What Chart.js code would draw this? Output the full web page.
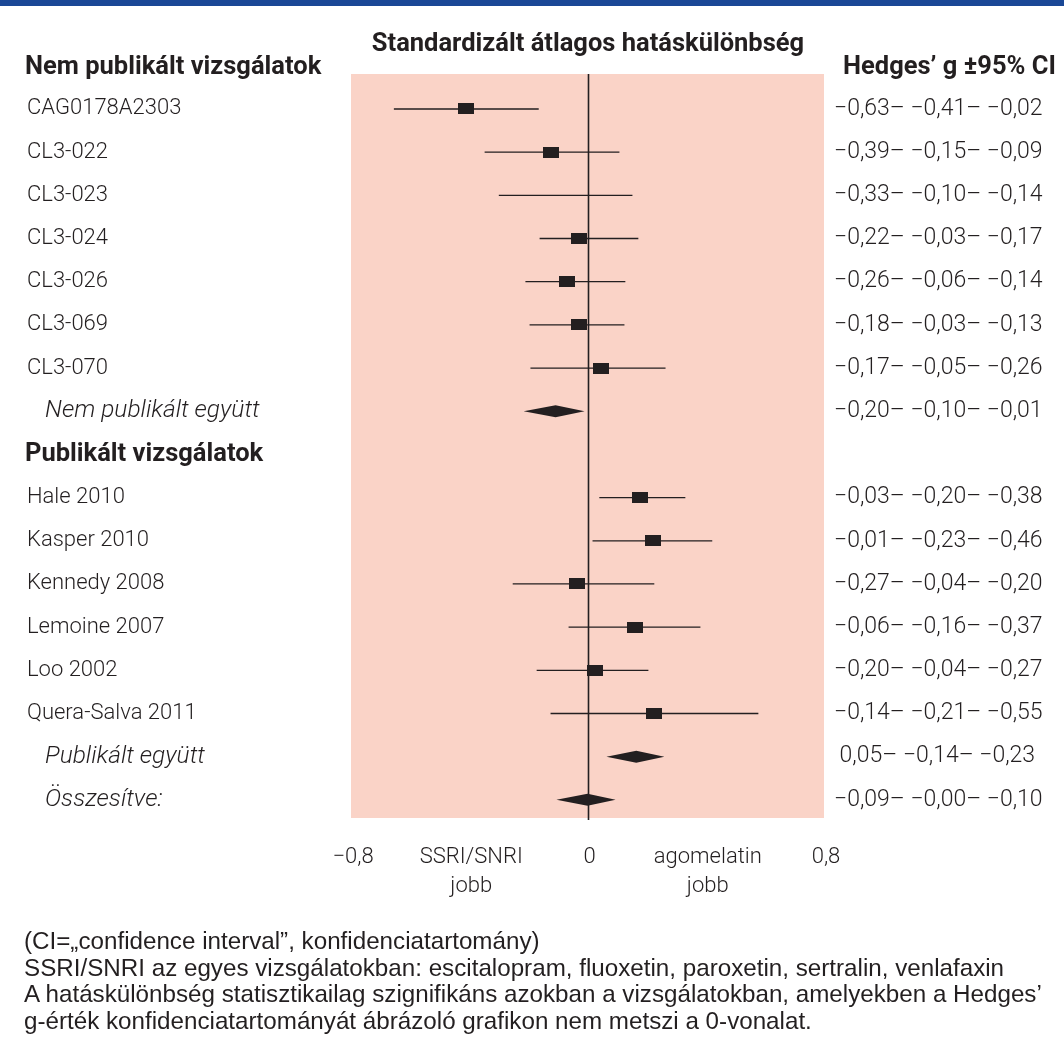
<!DOCTYPE html>
<html>
<head>
<meta charset="utf-8">
<script src="https://cdn.jsdelivr.net/npm/chart.js@4.4.1/dist/chart.umd.min.js"></script>
<style>
  body { margin: 0; background: #fff; }
  #wrap { position: relative; width: 1064px; height: 1060px; overflow: hidden; }
  #topbar { position: absolute; left: 0; top: 0; width: 1064px; height: 6px; background: #1a4796; }
  #forest { position: absolute; left: 0; top: 0; }
  .head { position: absolute; font-family: Roboto, sans-serif; font-weight: 700; font-size: 25.5px; color: #231f20; white-space: nowrap; line-height: 26px; }
  #title { left: 0; width: 1176px; text-align: center; top: 29px; }
  #leftHead { left: 25px; top: 52px; }
  #rightHead { left: 843px; top: 52px; }
  #note { position: absolute; left: 24px; top: 928px; font-family: "Liberation Sans", Arial, sans-serif; font-size: 24.2px; line-height: 26.5px; color: #231f20; white-space: nowrap; }
</style>
</head>
<body>
<div id="wrap">
  <div id="topbar"></div>
  <canvas id="forest" width="1064" height="1060"></canvas>
  <div class="head" id="title">Standardizált átlagos hatáskülönbség</div>
  <div class="head" id="leftHead">Nem publikált vizsgálatok</div>
  <div class="head" id="rightHead">Hedges’ g ±95% CI</div>
  <div id="note">
    (CI=„confidence interval”, konfidenciatartomány)<br>
    SSRI/SNRI az egyes vizsgálatokban: escitalopram, fluoxetin, paroxetin, sertralin, venlafaxin<br>
    A hatáskülönbség statisztikailag szignifikáns azokban a vizsgálatokban, amelyekben a Hedges’<br>
    g-érték konfidenciatartományát ábrázoló grafikon nem metszi a 0-vonalat.
  </div>
</div>
<script>
// --- Data ---
const rowLabels = [
    'CAG0178A2303', 'CL3-022', 'CL3-023', 'CL3-024', 'CL3-026', 'CL3-069', 'CL3-070',
    'Nem publikált együtt', 'Publikált vizsgálatok',
    'Hale 2010', 'Kasper 2010', 'Kennedy 2008', 'Lemoine 2007', 'Loo 2002', 'Quera-Salva 2011',
    'Publikált együtt', 'Összesítve:'
];
// study = box + CI line, pooled = diamond, group = bold heading row
const rowKinds = [
    'study', 'study', 'study', 'study', 'study', 'study', 'study',
    'pooled', 'group',
    'study', 'study', 'study', 'study', 'study', 'study',
    'pooled', 'pooled'
];
const ciLow  = [-0.655, -0.348, -0.300, -0.162, -0.210, -0.196, -0.193, -0.216, null, 0.040, 0.017, -0.253, -0.064, -0.172, -0.125, 0.064, -0.105];
const effect = [-0.410, -0.125, null,   -0.030, -0.068, -0.030,  0.047, -0.108, null, 0.179, 0.223, -0.034,  0.162,  0.027,  0.226, 0.165,  0.000];
const ciHigh = [-0.165,  0.108,  0.152,  0.172,  0.128,  0.125,  0.264, -0.010, null, 0.331, 0.422,  0.226,  0.382,  0.206,  0.578, 0.260,  0.095];
const valueLabels = [
    '−0,63– −0,41– −0,02', '−0,39– −0,15– −0,09', '−0,33– −0,10– −0,14', '−0,22– −0,03– −0,17',
    '−0,26– −0,06– −0,14', '−0,18– −0,03– −0,13', '−0,17– −0,05– −0,26', '−0,20– −0,10– −0,01',
    '',
    '−0,03– −0,20– −0,38', '−0,01– −0,23– −0,46', '−0,27– −0,04– −0,20', '−0,06– −0,16– −0,37',
    '−0,20– −0,04– −0,27', '−0,14– −0,21– −0,55', ' 0,05– −0,14– −0,23', '−0,09– −0,00– −0,10'
];
const xTickValues = [-0.8, -0.4, 0, 0.4, 0.8];
const xTickLabels = ['−0,8', ['SSRI/SNRI', 'jobb'], '0', ['agomelatin', 'jobb'], '0,8'];

const ink = '#231f20';
const lightFont = '300 22px Roboto';

// --- Datasets built from the arrays ---
// CI whiskers as one line dataset, broken between rows with null points
const ciPoints = [];
rowKinds.forEach((k, i) => {
    if (k !== 'study') return;
    ciPoints.push({ x: ciLow[i], y: i }, { x: ciHigh[i], y: i }, { x: ciHigh[i], y: null });
});
const boxPoints = [];
rowKinds.forEach((k, i) => {
    if (k === 'study' && effect[i] !== null) boxPoints.push({ x: effect[i], y: i });
});

// filled rectangle used as point style for the study boxes
const boxImg = document.createElement('canvas');
boxImg.width = 16; boxImg.height = 11;
const bctx = boxImg.getContext('2d');
bctx.fillStyle = ink; bctx.fillRect(0, 0, 16, 11);

// --- Plugins ---
const forestDecor = {
    id: 'forestDecor',
    beforeDraw(chart) {
        const { ctx, chartArea: a } = chart;
        ctx.save();
        ctx.fillStyle = '#fad3c7';
        ctx.fillRect(a.left, a.top, a.right - a.left, a.bottom - a.top);
        ctx.restore();
    },
    beforeDatasetsDraw(chart) {
        const { ctx, chartArea: a, scales: { x } } = chart;
        const x0 = Math.round(x.getPixelForValue(0)) + 0.5;
        ctx.save();
        ctx.strokeStyle = ink; ctx.lineWidth = 1.6;
        ctx.beginPath(); ctx.moveTo(x0, a.top); ctx.lineTo(x0, a.bottom + 2); ctx.stroke();
        ctx.restore();
    },
    afterDatasetsDraw(chart) {
        const { ctx, scales: { x, y } } = chart;
        ctx.save();
        ctx.fillStyle = ink;
        rowKinds.forEach((k, i) => {
            if (k !== 'pooled') return;
            const py = y.getPixelForValue(i);
            const l = x.getPixelForValue(ciLow[i]), m = x.getPixelForValue(effect[i]), r = x.getPixelForValue(ciHigh[i]);
            ctx.beginPath();
            ctx.moveTo(l, py); ctx.lineTo(m, py - 6); ctx.lineTo(r, py); ctx.lineTo(m, py + 6);
            ctx.closePath(); ctx.fill();
        });
        ctx.restore();
    },
    afterDraw(chart) {
        const { ctx, scales: { x, y } } = chart;
        ctx.save();
        ctx.fillStyle = ink;
        ctx.textBaseline = 'middle';
        // row labels and Hedges' g column
        rowLabels.forEach((lab, i) => {
            const py = y.getPixelForValue(i);
            ctx.textAlign = 'left';
            if (rowKinds[i] === 'group') { ctx.font = '700 25.5px Roboto'; ctx.fillText(lab, 25, py); }
            else if (rowKinds[i] === 'pooled') { ctx.font = 'italic 300 24.5px Roboto'; ctx.fillText(lab, 45, py); }
            else { ctx.font = lightFont; ctx.fillText(lab, 27, py); }
            ctx.font = '300 23px Roboto';
            if (valueLabels[i]) ctx.fillText(valueLabels[i], 834, py);
        });
        // x axis labels
        ctx.textAlign = 'center';
        ctx.font = lightFont;
        xTickValues.forEach((v, i) => {
            const px = x.getPixelForValue(v);
            const lines = [].concat(xTickLabels[i]);
            lines.forEach((t, j) => ctx.fillText(t, px + 2, 857 + j * 29));
        });
        ctx.restore();
    }
};

new Chart(document.getElementById('forest'), {
    type: 'scatter',
    data: {
        datasets: [
            {
                type: 'line', data: ciPoints, showLine: true, spanGaps: false,
                borderColor: ink, borderWidth: 1.3, pointRadius: 0, order: 2
            },
            {
                data: boxPoints, pointStyle: boxImg, pointRadius: 8,
                backgroundColor: ink, borderWidth: 0, order: 1
            }
        ]
    },
    options: {
        responsive: false,
        animation: false,
        events: [],
        layout: { padding: { left: 351, right: 240, top: 74, bottom: 242 } },
        plugins: { legend: { display: false }, tooltip: { enabled: false } },
        scales: {
            x: { type: 'linear', min: -0.8, max: 0.8, display: false },
            y: { type: 'linear', reverse: true, min: -0.81, max: 16.42, display: false }
        }
    },
    plugins: [forestDecor]
});
</script>
</body>
</html>
